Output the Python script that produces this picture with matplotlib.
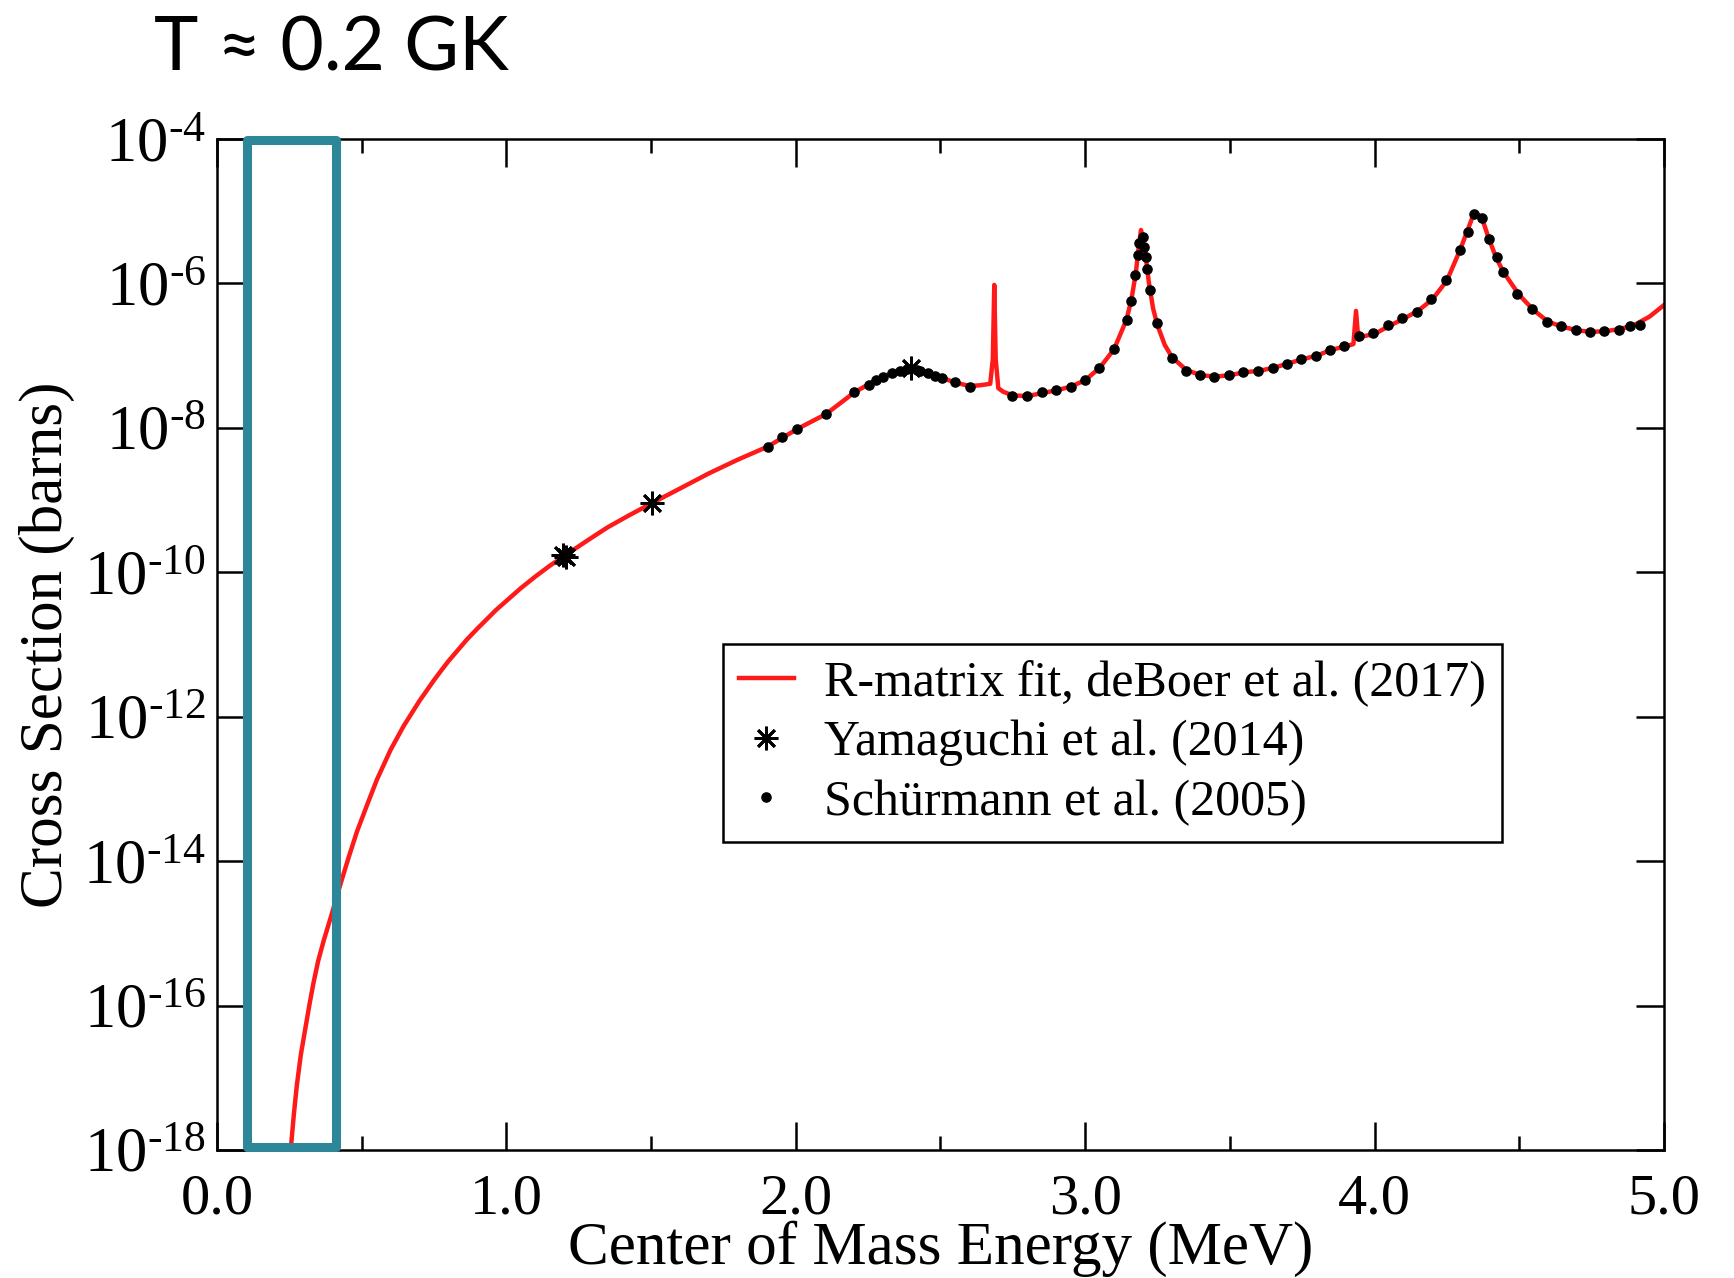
import numpy as np
import matplotlib
matplotlib.use("Agg")
import matplotlib.pyplot as plt
from matplotlib.patches import Rectangle
from matplotlib.ticker import FixedLocator, MultipleLocator

plt.rcParams['font.family'] = ['Liberation Serif', 'DejaVu Serif']
plt.rcParams['mathtext.fontset'] = 'custom'
plt.rcParams['mathtext.rm'] = 'Liberation Serif'
plt.rcParams['mathtext.it'] = 'Liberation Serif:italic'

# R-matrix fit (deBoer et al. 2017): energy (MeV) and log10 cross section (barns)
fit_E = [0.256, 0.266, 0.276, 0.29, 0.305, 0.32, 0.334, 0.35, 0.369, 0.397,
         0.41, 0.426, 0.455, 0.484, 0.52, 0.553, 0.60, 0.645, 0.70, 0.749,
         0.775, 0.80, 0.83, 0.864, 0.90, 0.93, 0.965, 1.002, 1.05, 1.10,
         1.15, 1.198, 1.28, 1.349, 1.42, 1.502, 1.60, 1.70, 1.80, 1.903,
         2.003, 2.104, 2.15, 2.202, 2.25, 2.30, 2.35, 2.40, 2.45, 2.50,
         2.55, 2.60, 2.637, 2.672, 2.681, 2.686, 2.691, 2.70, 2.717, 2.75,
         2.80, 2.85, 2.90, 2.95, 3.00, 3.05, 3.10, 3.143, 3.16, 3.175,
         3.185, 3.193, 3.20, 3.21, 3.22, 3.235, 3.25, 3.275, 3.30, 3.35,
         3.40, 3.45, 3.50, 3.55, 3.60, 3.65, 3.70, 3.75, 3.80, 3.85,
         3.90, 3.927, 3.936, 3.944, 3.95, 4.00, 4.05, 4.10, 4.15, 4.20,
         4.25, 4.295, 4.32, 4.345, 4.37, 4.395, 4.42, 4.445, 4.50, 4.55,
         4.60, 4.65, 4.70, 4.75, 4.80, 4.85, 4.90, 4.95, 5.00]
fit_logS = [-17.95, -17.50, -17.11, -16.68, -16.33, -15.98, -15.68, -15.38, -15.10, -14.73,
            -14.55, -14.33, -13.95, -13.59, -13.21, -12.87, -12.46, -12.13, -11.78, -11.50,
            -11.36, -11.23, -11.09, -10.93, -10.78, -10.66, -10.52, -10.39, -10.22, -10.06,
            -9.91, -9.78, -9.56, -9.38, -9.22, -9.045, -8.84, -8.63, -8.44, -8.26,
            -8.02, -7.81, -7.67, -7.51, -7.40, -7.29, -7.22, -7.18, -7.22, -7.30,
            -7.37, -7.42, -7.41, -7.39, -7.05, -6.02, -7.05, -7.45, -7.50, -7.55,
            -7.56, -7.52, -7.48, -7.43, -7.34, -7.17, -6.91, -6.50, -6.22, -5.86,
            -5.50, -5.26, -5.40, -5.65, -5.98, -6.35, -6.58, -6.85, -7.02, -7.20,
            -7.27, -7.29, -7.27, -7.23, -7.21, -7.17, -7.11, -7.05, -7.00, -6.92,
            -6.87, -6.84, -6.38, -6.78, -6.74, -6.70, -6.59, -6.49, -6.38, -6.22,
            -5.96, -5.54, -5.28, -5.01, -5.08, -5.38, -5.64, -5.84, -6.16, -6.37,
            -6.53, -6.60, -6.65, -6.67, -6.66, -6.63, -6.57, -6.46, -6.30]

# Yamaguchi et al. (2014)
yam_E = [1.195, 1.205, 1.502, 2.40]
yam_logS = [-9.76, -9.79, -9.045, -7.175]

# Schurmann et al. (2005)
sch_E = [1.903, 1.953, 2.003, 2.104, 2.202, 2.253, 2.279, 2.302, 2.331, 2.360,
         2.383, 2.42, 2.429, 2.458, 2.481, 2.504, 2.552, 2.602, 2.749, 2.798,
         2.850, 2.901, 2.950, 2.999, 3.049, 3.100, 3.143, 3.158, 3.174, 3.181,
         3.187, 3.199, 3.204, 3.212, 3.215, 3.224, 3.247, 3.299, 3.347, 3.397,
         3.446, 3.497, 3.546, 3.596, 3.648, 3.696, 3.745, 3.797, 3.846, 3.895,
         3.946, 3.996, 4.045, 4.096, 4.145, 4.195, 4.246, 4.295, 4.322, 4.343,
         4.370, 4.395, 4.422, 4.445, 4.493, 4.545, 4.595, 4.644, 4.695, 4.744,
         4.793, 4.843, 4.884, 4.918]
sch_logS = [-8.26, -8.13, -8.02, -7.81, -7.51, -7.41, -7.34, -7.29, -7.245, -7.21,
            -7.185, -7.20, -7.21, -7.245, -7.28, -7.31, -7.37, -7.43, -7.555, -7.56,
            -7.51, -7.48, -7.43, -7.34, -7.17, -6.91, -6.50, -6.24, -5.88, -5.61,
            -5.44, -5.35, -5.49, -5.63, -5.80, -6.09, -6.55, -7.03, -7.21, -7.27,
            -7.29, -7.27, -7.23, -7.21, -7.17, -7.11, -7.05, -7.01, -6.92, -6.87,
            -6.73, -6.69, -6.58, -6.48, -6.39, -6.22, -5.95, -5.54, -5.29, -5.04,
            -5.09, -5.38, -5.64, -5.84, -6.14, -6.35, -6.54, -6.59, -6.65, -6.67,
            -6.66, -6.64, -6.59, -6.57]

# Gamow window highlight (MeV)
window = (0.104, 0.411)

xticks = [0, 1, 2, 3, 4, 5]
xtick_labels = ['0.0', '1.0', '2.0', '3.0', '4.0', '5.0']
ydecades = [-18, -16, -14, -12, -10, -8, -6, -4]

fig = plt.figure(figsize=(17.34, 12.78), dpi=100)
ax = fig.add_axes([0.1251, 0.1002, 0.8345, 0.7910])

ax.plot(fit_E, 10.0 ** np.array(fit_logS), color='#ff1a1a', lw=3.2,
        label='R-matrix fit, deBoer et al. (2017)', zorder=2)
ax.plot(yam_E, 10.0 ** np.array(yam_logS), ls='none', marker=(8, 2, 0),
        ms=17, mew=2.0, color='black', label='Yamaguchi et al. (2014)', zorder=4)
ax.plot(sch_E, 10.0 ** np.array(sch_logS), ls='none', marker='o', ms=6.6,
        color='black', label='Sch\u00fcrmann et al. (2005)', zorder=3)

ax.set_yscale('log')
ax.set_xlim(0, 5)
ax.set_ylim(1e-18, 1e-4)

ax.yaxis.set_major_locator(FixedLocator([10.0 ** d for d in ydecades]))
ax.yaxis.set_minor_locator(FixedLocator([]))
ax.set_yticklabels(['10$^{\\text{-%d}}$' % (-d) for d in ydecades])
ax.set_xticks(xticks)
ax.set_xticklabels(xtick_labels)
ax.xaxis.set_minor_locator(MultipleLocator(0.5))

ax.tick_params(which='both', direction='in', top=True, right=True, width=1.8)
ax.tick_params(axis='x', labelsize=42, pad=17)
ax.tick_params(axis='y', labelsize=45, pad=8)
ax.tick_params(which='major', length=20)
ax.tick_params(which='minor', length=10)
for s in ax.spines.values():
    s.set_linewidth(1.8)

ax.set_xlabel('Center of Mass Energy (MeV)', fontsize=44)
ax.set_ylabel('Cross Section (barns)', fontsize=44)
ax.xaxis.set_label_coords(0.5, -0.07)
ax.yaxis.set_label_coords(-0.098, 0.5)

leg = ax.legend(loc='upper left', bbox_to_anchor=(0.3497, 0.5005), fontsize=36,
                frameon=True, fancybox=False, edgecolor='black', framealpha=1,
                borderpad=0.32, labelspacing=0.26, handlelength=1.1,
                handletextpad=0.6, borderaxespad=0)
leg.get_frame().set_linewidth(1.8)

# teal box marking the energy window
ax.add_patch(Rectangle((window[0], 0.003), window[1] - window[0], 0.996,
                       transform=ax.get_xaxis_transform(), fill=False,
                       edgecolor='#2d8799', lw=6.5, joinstyle='round',
                       clip_on=False, zorder=5))

fig.text(0.089, 0.945, 'T \u2248 0.2 GK', fontsize=54, family=['Lato', 'DejaVu Sans'],
         ha='left', va='baseline')

fig.savefig('out.png', dpi=100)
